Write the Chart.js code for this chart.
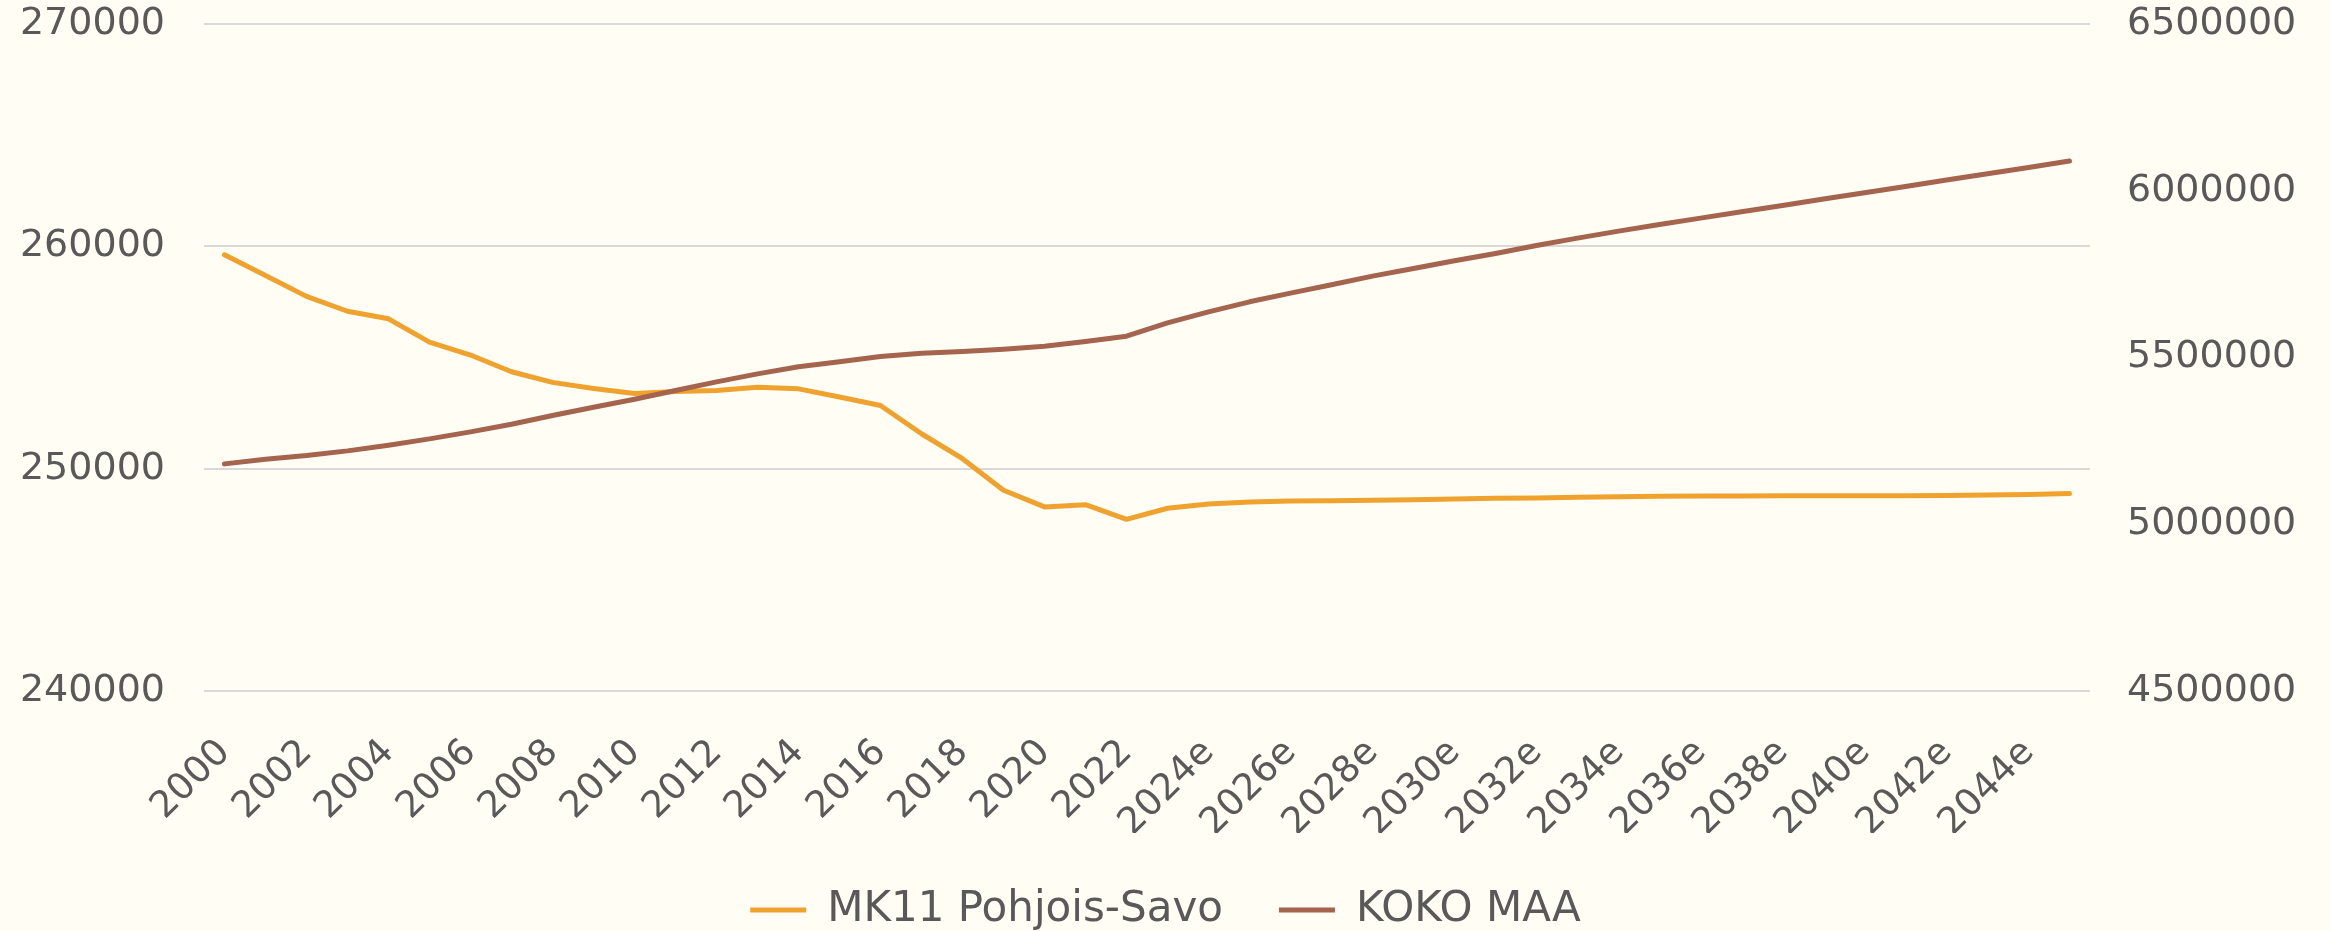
<!DOCTYPE html>
<html><head><meta charset="utf-8">
<script src="https://cdn.jsdelivr.net/npm/chart.js@4.4.1/dist/chart.umd.min.js"></script>
<style>html,body{margin:0;padding:0;background:#FFFDF4;} #c{display:block;}</style>
</head><body>
<canvas id="c" width="2331" height="931"></canvas>
<script>
const years = ['2000','2001','2002','2003','2004','2005','2006','2007','2008','2009',
  '2010','2011','2012','2013','2014','2015','2016','2017','2018','2019',
  '2020','2021','2022','2023','2024e','2025e','2026e','2027e','2028e','2029e',
  '2030e','2031e','2032e','2033e','2034e','2035e','2036e','2037e','2038e','2039e',
  '2040e','2041e','2042e','2043e','2044e','2045e'];
const pohjoisSavo = [259620,258690,257750,257080,256740,255690,255110,254360,253880,253610,
  253380,253470,253520,253660,253590,253220,252840,251570,250450,249030,
  248280,248380,247720,248220,248410,248500,248545,248560,248575,248605,
  248635,248665,248680,248710,248740,248755,248770,248775,248780,248780,
  248780,248785,248790,248810,248840,248880];
const kokoMaa = [5181000,5195000,5206000,5220000,5237000,5256000,5277000,5300000,5326000,5351000,
  5375000,5401000,5427000,5451000,5472000,5487000,5503000,5513000,5518000,5525000,
  5534000,5548000,5564000,5604000,5637000,5667000,5693000,5718000,5744000,5767000,
  5790000,5812000,5836000,5858000,5879000,5899000,5918000,5937000,5956000,5975000,
  5994000,6013000,6032000,6051000,6070000,6089000];
const leftTicks = [240000,250000,260000,270000];
const rightTicks = [4500000,5000000,5500000,6000000,6500000];
const seriesNames = ['MK11 Pohjois-Savo','KOKO MAA'];

const W = 2331, H = 931;
const LEFT_W = 204, RIGHT_W = 241, TOP = 24, BOTTOM = 691, LEGEND_H = 98;
const TEXT = '#595959';
const FONT = 'DejaVu Sans';

const legendFix = {
  id: 'legendFix',
  beforeLayout(chart) {
    const lg = chart.legend;
    if (lg && !lg._fixed) {
      const f = lg.fit;
      lg.fit = function () { f.call(this); this.height = LEGEND_H; };
      lg._fixed = true;
    }
  }
};

function fixY(width) {
  return s => { s.width = width; s.paddingTop = 0; s.paddingBottom = 0; };
}

new Chart(document.getElementById('c'), {
  type: 'line',
  data: {
    labels: years,
    datasets: [
      { label: seriesNames[0], data: pohjoisSavo, yAxisID: 'y', borderColor: '#F0A22E', backgroundColor: '#F0A22E',
        borderWidth: 5, pointRadius: 0, tension: 0, borderCapStyle: 'round', borderJoinStyle: 'round', order: 1 },
      { label: seriesNames[1], data: kokoMaa, yAxisID: 'y2', borderColor: '#A5644E', backgroundColor: '#A5644E',
        borderWidth: 5, pointRadius: 0, tension: 0, borderCapStyle: 'round', borderJoinStyle: 'round', order: 0 }
    ]
  },
  options: {
    responsive: false,
    animation: false,
    devicePixelRatio: 1,
    layout: { padding: { top: TOP, left: 0, right: 0, bottom: 0 } },
    plugins: {
      tooltip: { enabled: false },
      legend: {
        position: 'bottom',
        labels: {
          usePointStyle: true, pointStyle: 'line', pointStyleWidth: 56,
          padding: 56, color: TEXT, font: { family: FONT, size: 42 },
          sort: (a, b) => a.datasetIndex - b.datasetIndex
        }
      }
    },
    scales: {
      x: {
        type: 'category',
        offset: true,
        grid: { display: false, drawTicks: false },
        border: { display: false },
        ticks: {
          autoSkip: false, minRotation: 45, maxRotation: 45, padding: 40,
          color: TEXT, font: { family: FONT, size: 37 },
          callback: (v, i) => (i % 2 === 0 ? years[i] : null)
        },
        afterFit: s => { s.height = H - LEGEND_H - BOTTOM; }
      },
      y: {
        position: 'left',
        min: 240000, max: 270000,
        afterBuildTicks: s => { s.ticks = leftTicks.map(v => ({ value: v })); },
        grid: { color: '#D9D9D9', lineWidth: 2, drawTicks: false },
        border: { display: false },
        ticks: { padding: 39, color: TEXT, font: { family: FONT, size: 38 }, callback: v => String(v) },
        afterFit: fixY(LEFT_W)
      },
      y2: {
        position: 'right',
        min: 4500000, max: 6500000,
        afterBuildTicks: s => { s.ticks = rightTicks.map(v => ({ value: v })); },
        grid: { display: false, drawTicks: false },
        border: { display: false },
        ticks: { padding: 37, color: TEXT, font: { family: FONT, size: 38 }, callback: v => String(v) },
        afterFit: fixY(RIGHT_W)
      }
    }
  },
  plugins: [legendFix]
});
</script>
</body></html>
